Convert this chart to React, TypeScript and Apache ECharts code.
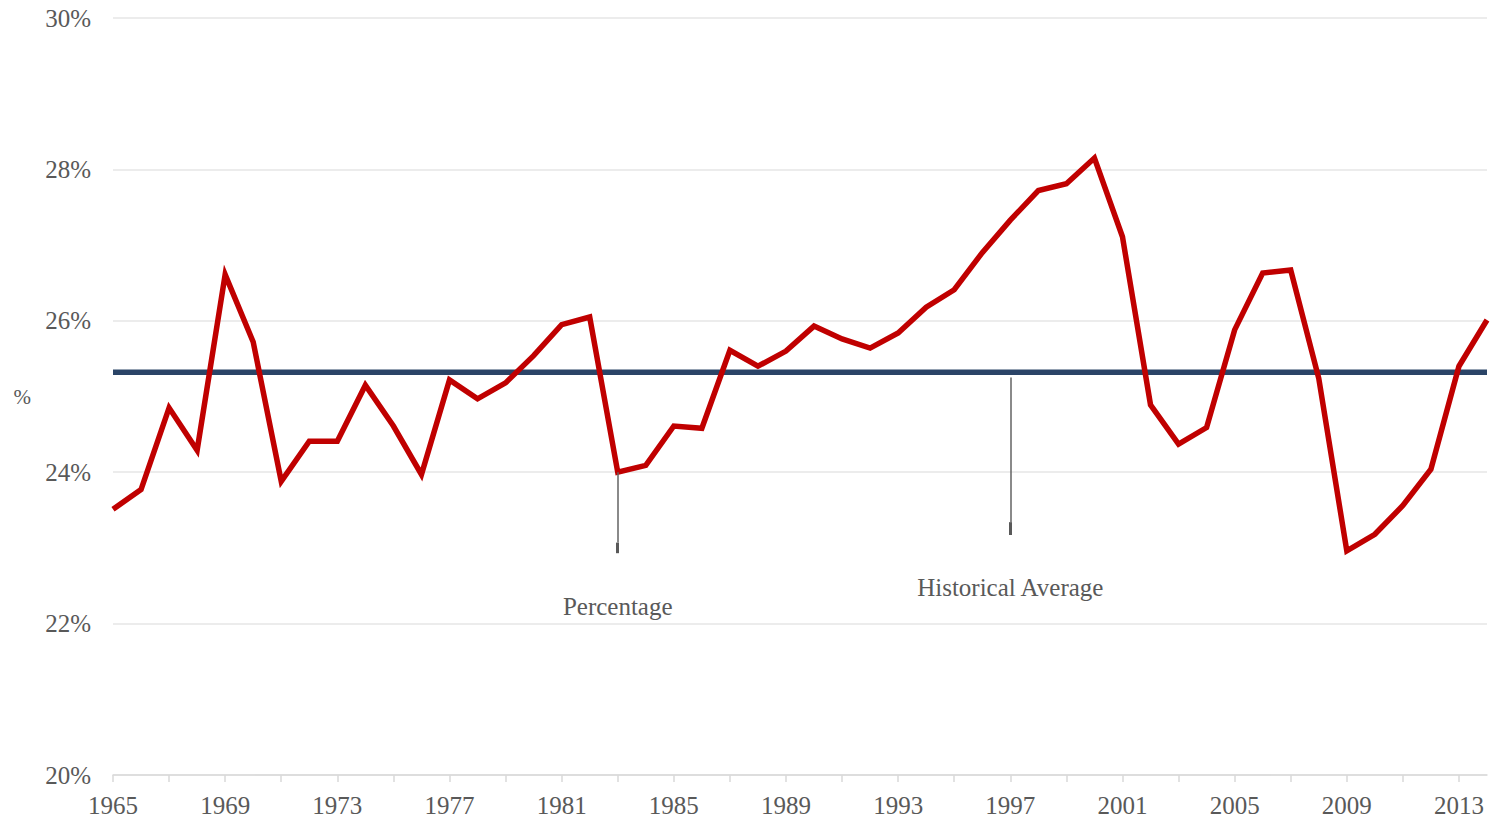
import React, { useEffect, useRef } from "react";
import * as echarts from "echarts";

const years: string[] = [
  "1965","1966","1967","1968","1969","1970","1971","1972","1973","1974",
  "1975","1976","1977","1978","1979","1980","1981","1982","1983","1984",
  "1985","1986","1987","1988","1989","1990","1991","1992","1993","1994",
  "1995","1996","1997","1998","1999","2000","2001","2002","2003","2004",
  "2005","2006","2007","2008","2009","2010","2011","2012","2013","2014",
];

const percentage: number[] = [
  23.51, 23.77, 24.85, 24.29, 26.61, 25.72, 23.88, 24.41, 24.41, 25.15,
  24.61, 23.97, 25.22, 24.97, 25.18, 25.54, 25.95, 26.05, 24.0, 24.09,
  24.61, 24.58, 25.61, 25.4, 25.6, 25.93, 25.76, 25.64, 25.84, 26.18,
  26.41, 26.9, 27.33, 27.72, 27.81, 28.15, 27.11, 24.89, 24.37, 24.59,
  25.88, 26.63, 26.67, 25.24, 22.96, 23.18, 23.56, 24.04, 25.4, 26.01,
];

const historicalAverageValue = 25.32;
const historicalAverage: number[] = years.map(() => historicalAverageValue);

const seriesNames = ["Percentage", "Historical Average"];
const yTicks = { min: 20, max: 30, interval: 2 };

// callout anchors: year, line top, end of thin part, end of tail, label centre
const percentageCallout = { year: "1983", top: 24.0, thinEnd: 23.07, tailEnd: 22.93, label: 22.23 };
const averageCallout = { year: "1997", top: 25.25, thinEnd: 23.34, tailEnd: 23.17, label: 22.48 };

const FONT = "'Liberation Serif', 'Times New Roman', serif";
const TEXT_COLOR = "#595959";

function callout(c: typeof percentageCallout, name: string) {
  return {
    markLine: {
      silent: true,
      symbol: ["none", "none"],
      label: { show: false },
      emphasis: { disabled: true },
      data: [
        [
          { coord: [c.year, c.top], lineStyle: { color: "#636363", width: 1.5, type: "solid" } },
          { coord: [c.year, c.thinEnd] },
        ],
        [
          { coord: [c.year, c.thinEnd], lineStyle: { color: "#595959", width: 3, type: "solid" } },
          { coord: [c.year, c.tailEnd] },
        ],
      ],
    },
    markPoint: {
      silent: true,
      symbol: "circle",
      symbolSize: 0,
      data: [
        {
          coord: [c.year, c.label],
          label: {
            show: true,
            position: "inside",
            formatter: name,
            color: TEXT_COLOR,
            fontFamily: FONT,
            fontSize: 25,
          },
        },
      ],
    },
  };
}

export default function App() {
  const ref = useRef<HTMLDivElement>(null);

  useEffect(() => {
    if (!ref.current) return;
    const chart = echarts.init(ref.current, null, { renderer: "svg" });
    chart.setOption({
      animation: false,
      backgroundColor: "#ffffff",
      grid: { left: 113, right: 12, top: 18, bottom: 42, containLabel: false },
      xAxis: {
        type: "category",
        data: years,
        boundaryGap: false,
        axisLine: { show: true, lineStyle: { color: "#d9d9d9", width: 1.5 } },
        axisTick: { show: true, interval: 1, length: 7, lineStyle: { color: "#d9d9d9", width: 1.5 } },
        axisLabel: {
          interval: 3,
          margin: 18,
          color: TEXT_COLOR,
          fontFamily: FONT,
          fontSize: 25,
        },
        splitLine: { show: false },
      },
      yAxis: {
        type: "value",
        min: yTicks.min,
        max: yTicks.max,
        interval: yTicks.interval,
        name: "%",
        nameLocation: "middle",
        nameRotate: 0,
        nameGap: 82,
        nameTextStyle: { color: TEXT_COLOR, fontFamily: FONT, fontSize: 21 },
        axisLine: { show: false },
        axisTick: { show: false },
        axisLabel: {
          margin: 22,
          color: TEXT_COLOR,
          fontFamily: FONT,
          fontSize: 25,
          formatter: (v: number) => `${v}%`,
        },
        splitLine: { show: true, lineStyle: { color: "#e6e6e6", width: 1.5 } },
      },
      series: [
        {
          name: seriesNames[1],
          type: "line",
          data: historicalAverage,
          symbol: "none",
          lineStyle: { color: "#2B4467", width: 5.5 },
          z: 2,
          ...callout(averageCallout, seriesNames[1]),
        },
        {
          name: seriesNames[0],
          type: "line",
          data: percentage,
          symbol: "none",
          lineStyle: { color: "#C00000", width: 5.5, join: "miter" },
          z: 3,
          ...callout(percentageCallout, seriesNames[0]),
        },
      ],
    });
    return () => chart.dispose();
  }, []);

  return (
    <div
      ref={ref}
      style={{ position: "fixed", left: 0, top: 0, width: 1499, height: 818, background: "#fff" }}
    />
  );
}
